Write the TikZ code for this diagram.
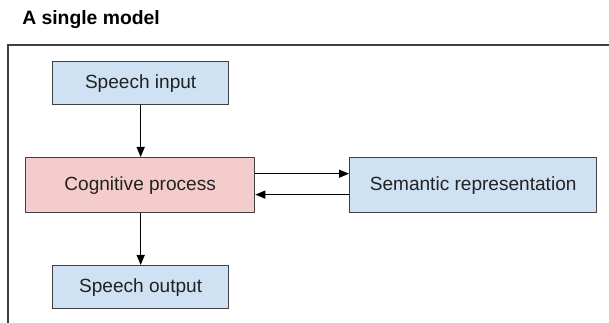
\documentclass[tikz,border=0pt]{standalone}
\usepackage{fontspec}
\setmainfont{Liberation Sans}
\usetikzlibrary{arrows.meta}
\definecolor{boxblue}{HTML}{CFE2F3}
\definecolor{boxpink}{HTML}{F4CCCC}
\definecolor{edgegray}{HTML}{404040}
\definecolor{txt}{HTML}{222222}
\begin{document}
\begin{tikzpicture}[x=0.75pt,y=-0.75pt,
  box/.style={draw=edgegray,line width=1pt,inner sep=0pt,anchor=north west,
    font=\fontsize{14.3}{16}\selectfont,text=txt},
  conn/.style={line width=1pt,draw=black,-{Triangle[length=7.5pt,width=6pt]}}]
\useasboundingbox (0,0) rectangle (609,323);
\fill[white] (0,0) rectangle (609,323);
\node[anchor=base west,inner sep=0pt,font=\fontsize{14.5}{16}\selectfont\bfseries,text=black] (title) at (22,25) {A single model};
\draw[draw=edgegray,line width=0.9pt] (8,323) -- (8,45) -- (609,45);
\node[box,fill=boxblue,minimum width=132pt,minimum height=32.25pt] (si) at (52,61) {Speech input};
\node[box,fill=boxpink,minimum width=171.75pt,minimum height=41.25pt] (cp) at (25,157) {Cognitive process};
\node[box,fill=boxblue,minimum width=185.25pt,minimum height=41.25pt] (sr) at (349,157) {Semantic representation};
\node[box,fill=boxblue,minimum width=132pt,minimum height=32.25pt] (so) at (52,265) {Speech output};
\draw[conn] (si.south) -- (cp.north -| si.south);
\draw[conn] (cp.south -| so.north) -- (so.north);
\draw[conn] ([yshift=8.6pt]cp.east) -- ([yshift=8.6pt]sr.west);
\draw[conn] ([yshift=-7.1pt]sr.west) -- ([yshift=-7.1pt]cp.east);
\end{tikzpicture}
\end{document}
